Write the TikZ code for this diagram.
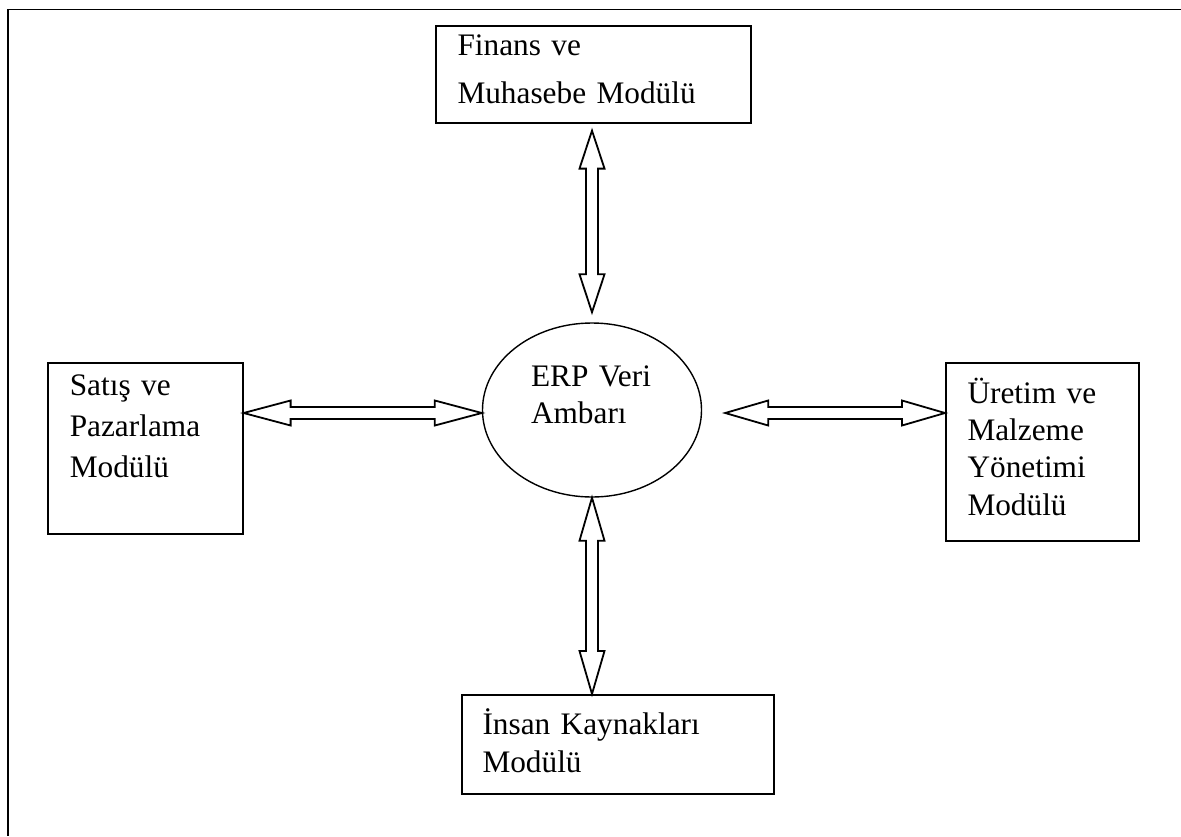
\documentclass[tikz,border=0pt]{standalone}
\usepackage{fontspec}
\setmainfont{Liberation Serif}
\usetikzlibrary{calc,shapes.geometric}

% hollow double-headed arrow between two tips: #1, #2 tips, #3 head length
\newcommand\hollowarrow[3]{%
  \draw[hollow] (#1)
    -- ($(#1)!#3!(#2)!12.5pt!90:(#2)$)
    -- ($(#1)!#3!(#2)!6pt!90:(#2)$)
    -- ($(#2)!#3!(#1)!6pt!-90:(#1)$)
    -- ($(#2)!#3!(#1)!12.5pt!-90:(#1)$)
    -- (#2)
    -- ($(#2)!#3!(#1)!12.5pt!90:(#1)$)
    -- ($(#2)!#3!(#1)!6pt!90:(#1)$)
    -- ($(#1)!#3!(#2)!6pt!-90:(#2)$)
    -- ($(#1)!#3!(#2)!12.5pt!-90:(#2)$)
    -- cycle;}

\begin{document}
\begin{tikzpicture}[x=1pt,y=-1pt,
  module/.style={draw, line width=1.6pt, rectangle, inner ysep=0pt,
    align=left, anchor=north west},
  store/.style={draw, line width=1.4pt, ellipse, inner sep=0pt, align=left},
  hollow/.style={draw, line width=1.8pt, line join=miter},
  frame/.style={line width=1.6pt}]
\useasboundingbox (0,0) rectangle (1181,836);

% page frame (top and left edges)
\draw[frame] (1181,9.5) -- (8,9.5) -- (8,836);

% central data store
\node[store, minimum width=219pt, minimum height=174pt, text width=122pt,
  text height=8pt, text depth=56pt,
  font=\fontsize{31.3pt}{37pt}\selectfont] (erp) at (592,410)
  {ERP~Veri\\Ambarı};

% modules
\node[module, inner xsep=21.7pt, text width=271.6pt, text height=30pt, text depth=67pt,
  font=\fontsize{31.3pt}{47.7pt}\selectfont] (fin) at (435,25)
  {Finans ve\\Muhasebe Modülü};
\node[module, inner xsep=22pt, text width=151pt, text height=33pt, text depth=138pt,
  font=\fontsize{31.3pt}{41pt}\selectfont] (sat) at (47,362)
  {Satış ve\\Pazarlama\\Modülü};
\node[module, inner xsep=21.7pt, text width=149.6pt, text height=40.5pt, text depth=137.5pt,
  font=\fontsize{31.3pt}{37.3pt}\selectfont] (ure) at (945,362)
  {Üretim ve\\Malzeme\\Yönetimi\\Modülü};
\node[module, inner xsep=20.7pt, text width=270.6pt, text height=40pt, text depth=59pt,
  font=\fontsize{31.3pt}{37.7pt}\selectfont] (hr) at (461,694)
  {İnsan Kaynakları\\Modülü};

% arrow tips
\coordinate (t1) at ($(fin.south -| erp.north)+(0,7)$);
\coordinate (t2) at ($(erp.north)+(0,-10)$);
\coordinate (b1) at (erp.south);
\coordinate (b2) at (erp.south |- hr.north);
\coordinate (l1) at ($(sat.east |- erp.west)+(0,3)$);
\coordinate (l2) at ($(erp.west)+(0,3)$);
\coordinate (r1) at ($(erp.east)+(23,3)$);
\coordinate (r2) at (ure.west |- r1);

% connectors
\hollowarrow{t1}{t2}{38pt}
\hollowarrow{b1}{b2}{43pt}
\hollowarrow{l1}{l2}{47pt}
\hollowarrow{r1}{r2}{43pt}
\end{tikzpicture}
\end{document}
